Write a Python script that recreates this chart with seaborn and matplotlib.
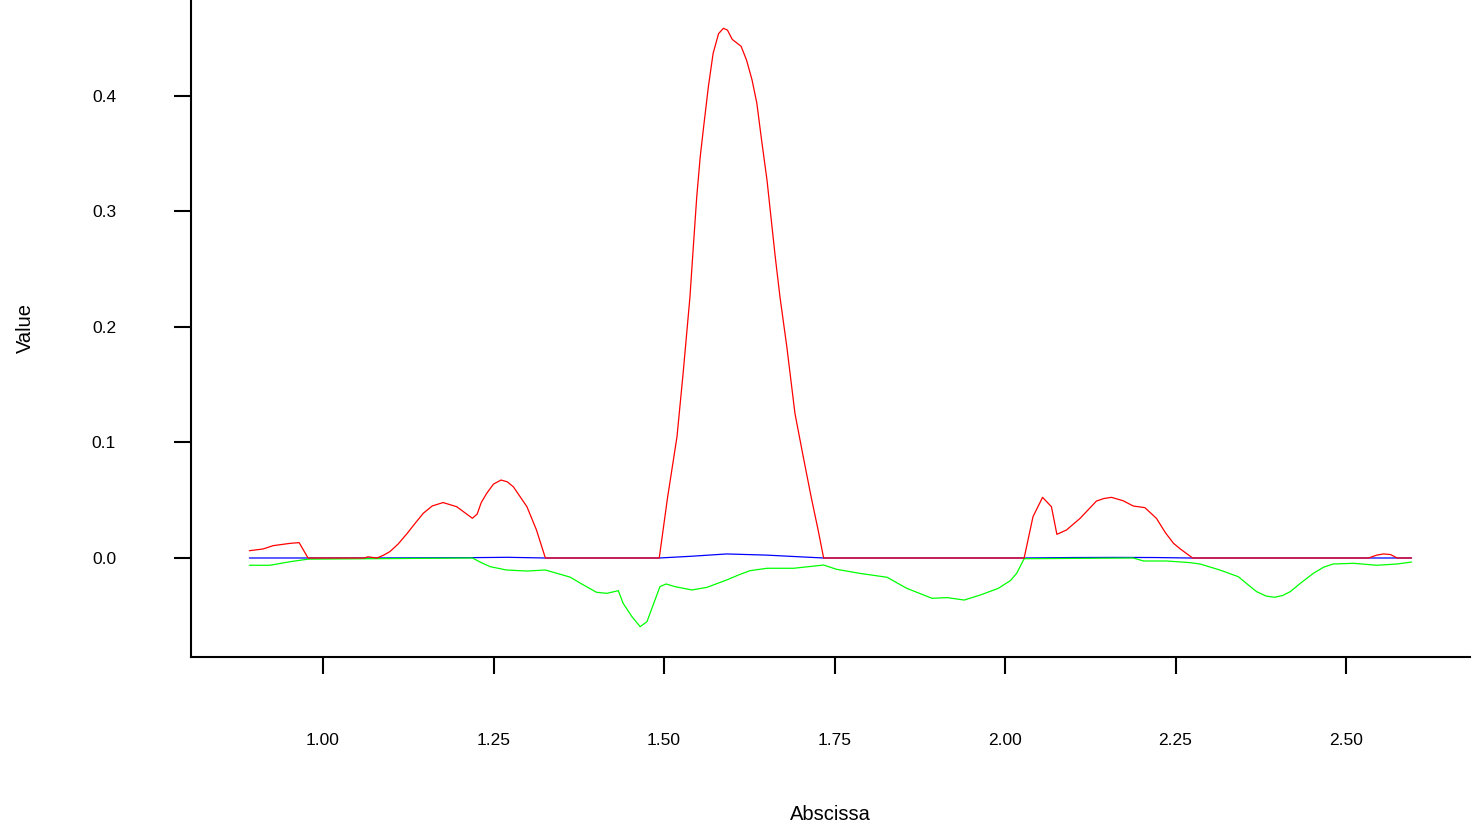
import seaborn as sns
import matplotlib.pyplot as plt

# Values
red_x = [0.892, 0.912, 0.927, 0.952, 0.965, 0.978, 1.060, 1.066, 1.079, 1.088,
         1.098, 1.110, 1.123, 1.135, 1.147, 1.160, 1.176, 1.196, 1.219, 1.226,
         1.232, 1.240, 1.250, 1.261, 1.270, 1.279, 1.299, 1.313, 1.326, 1.493,
         1.505, 1.519, 1.528, 1.538, 1.543, 1.548, 1.553, 1.558, 1.565, 1.572,
         1.580, 1.587, 1.593, 1.600, 1.613, 1.621, 1.629, 1.636, 1.643, 1.651,
         1.663, 1.670, 1.680, 1.692, 1.704, 1.716, 1.726, 1.734, 2.028, 2.041,
         2.055, 2.068, 2.076, 2.090, 2.110, 2.134, 2.145, 2.156, 2.173, 2.188,
         2.205, 2.222, 2.235, 2.247, 2.257, 2.275, 2.533, 2.545, 2.555, 2.565,
         2.575, 2.596]
red_y = [0.0063, 0.0078, 0.0107, 0.0127, 0.0133, 0.0, 0.0, 0.001, 0.0, 0.0022,
         0.0055, 0.012, 0.021, 0.030, 0.0387, 0.045, 0.048, 0.0444, 0.0344, 0.038,
         0.048, 0.056, 0.064, 0.0675, 0.066, 0.0617, 0.0444, 0.0242, 0.0, 0.0,
         0.0517, 0.105, 0.16, 0.226, 0.27, 0.313, 0.347, 0.373, 0.408, 0.437,
         0.454, 0.4586, 0.457, 0.449, 0.443, 0.431, 0.414, 0.394, 0.362, 0.327,
         0.261, 0.226, 0.183, 0.125, 0.088, 0.052, 0.024, 0.0, 0.0, 0.0358,
         0.0525, 0.0444, 0.0205, 0.0242, 0.0343, 0.0493, 0.0515, 0.0525, 0.0496, 0.045,
         0.0436, 0.0343, 0.022, 0.0127, 0.0078, 0.0, 0.0, 0.0025, 0.0035, 0.003,
         0.0, 0.0]

green_x = [0.892, 0.922, 0.952, 0.978, 1.219, 1.232, 1.245, 1.269, 1.299, 1.326,
           1.343, 1.362, 1.382, 1.401, 1.416, 1.433, 1.440, 1.453, 1.465, 1.475,
           1.484, 1.494, 1.503, 1.516, 1.541, 1.563, 1.592, 1.610, 1.626, 1.651,
           1.690, 1.734, 1.753, 1.787, 1.827, 1.856, 1.893, 1.915, 1.940, 1.964,
           1.990, 2.008, 2.017, 2.028, 2.188, 2.203, 2.237, 2.271, 2.286, 2.315,
           2.342, 2.356, 2.369, 2.383, 2.395, 2.407, 2.418, 2.435, 2.452, 2.467,
           2.481, 2.511, 2.545, 2.575, 2.596]
green_y = [-0.0063, -0.0063, -0.0032, -0.001, 0.0, -0.004, -0.0075, -0.0104, -0.0113, -0.0104,
           -0.0133, -0.0165, -0.0234, -0.0297, -0.0306, -0.0283, -0.0392, -0.0508, -0.0595, -0.0551,
           -0.0407, -0.0248, -0.0225, -0.0248, -0.0277, -0.0254, -0.019, -0.0145, -0.011, -0.0089,
           -0.0089, -0.0061, -0.0098, -0.0133, -0.0167, -0.0263, -0.0349, -0.0343, -0.0364, -0.032,
           -0.0263, -0.0195, -0.0133, -0.0006, 0.0, -0.0026, -0.0026, -0.004, -0.0052, -0.0104,
           -0.0162, -0.023, -0.0292, -0.0330, -0.034, -0.0325, -0.0292, -0.021, -0.0133, -0.0080,
           -0.0052, -0.0046, -0.0063, -0.0052, -0.0035]

blue_x = [0.892, 0.978, 1.060, 1.219, 1.270, 1.326, 1.493, 1.540, 1.592, 1.650,
          1.700, 1.734, 2.028, 2.100, 2.160, 2.220, 2.270, 2.533, 2.596]
blue_y = [0.0, 0.0, 0.0, 0.0003, 0.0006, 0.0, 0.0, 0.0015, 0.0035, 0.0025,
          0.001, 0.0, 0.0, 0.0004, 0.0005, 0.0004, 0.0, 0.0, 0.0]

sns.set_style("white")
plt.rcParams['font.family'] = ['Liberation Sans', 'DejaVu Sans']

fig = plt.figure(figsize=(14.73, 8.35), dpi=100)
ax = fig.add_axes([0.1297, 0.2132, 0.8683, 0.7868])

sns.lineplot(x=blue_x, y=blue_y, color='#0000ff', linewidth=0.9, estimator=None, ax=ax)
sns.lineplot(x=green_x, y=green_y, color='#00ff00', linewidth=0.9, estimator=None, ax=ax)
sns.lineplot(x=red_x, y=red_y, color='#ff0000', linewidth=0.9, estimator=None, ax=ax)

ax.set_xlim(0.8065, 2.6818)
ax.set_ylim(-0.0857, 0.4831)
ax.set_xticks([1.0, 1.25, 1.5, 1.75, 2.0, 2.25, 2.5])
ax.set_xticklabels(['1.00', '1.25', '1.50', '1.75', '2.00', '2.25', '2.50'])
ax.set_yticks([0.0, 0.1, 0.2, 0.3, 0.4])
ax.set_yticklabels(['0.0', '0.1', '0.2', '0.3', '0.4'])

sns.despine(ax=ax)
for side in ['left', 'bottom']:
    ax.spines[side].set_color('black')
    ax.spines[side].set_linewidth(1.5)
ax.tick_params(axis='both', direction='out', length=12, width=1.5, color='black',
               labelsize=12.5, labelcolor='black')
ax.tick_params(axis='x', pad=43, bottom=True)
ax.tick_params(axis='y', pad=42, left=True)

ax.set_xlabel('Abscissa', fontsize=14.5, va='center', color='black')
ax.set_ylabel('Value', fontsize=14.5, va='center', color='black')
ax.xaxis.set_label_coords(0.5, -0.2405)
ax.yaxis.set_label_coords(-0.1298, 0.5)

plt.savefig('out.png', dpi=100)
